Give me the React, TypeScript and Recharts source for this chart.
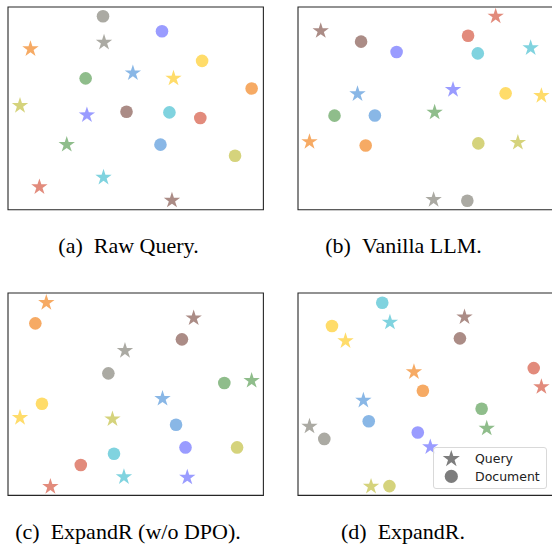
import React from "react";
import { ScatterChart, Scatter, XAxis, YAxis, ReferenceArea } from "recharts";

// one colour per query/document pair
const COLORS = [
  "#abaaa3", // gray
  "#9a9cff", // purple
  "#ffdc6a", // yellow
  "#f6aa64", // orange
  "#8fbd8b", // green
  "#ab8c86", // brown
  "#80d3df", // cyan
  "#e28b7c", // red
  "#89b7e6", // blue
  "#d5d37c", // olive
];

// (a) Raw Query
const rawQueries = [
  { x: 37.6, y: 82.5 }, { x: 30.9, y: 46.7 }, { x: 64.8, y: 64.8 }, { x: 8.8, y: 79.3 }, { x: 23.0, y: 32.1 },
  { x: 64.2, y: 4.6 }, { x: 37.4, y: 15.9 }, { x: 12.3, y: 11.2 }, { x: 48.9, y: 67.4 }, { x: 4.7, y: 51.3 },
];
const rawDocs = [
  { x: 37.2, y: 95.4 }, { x: 60.3, y: 88.0 }, { x: 76.0, y: 73.4 }, { x: 95.4, y: 59.8 }, { x: 30.4, y: 64.8 },
  { x: 46.4, y: 48.3 }, { x: 63.2, y: 48.0 }, { x: 75.3, y: 45.2 }, { x: 59.7, y: 32.1 }, { x: 88.9, y: 26.6 },
];

// (b) Vanilla LLM
const vanillaQueries = [
  { x: 53.1, y: 4.9 }, { x: 60.7, y: 59.2 }, { x: 95.3, y: 56.2 }, { x: 4.5, y: 33.5 }, { x: 53.5, y: 48.0 },
  { x: 8.9, y: 88.2 }, { x: 91.1, y: 79.8 }, { x: 77.4, y: 95.4 }, { x: 23.3, y: 57.1 }, { x: 86.1, y: 33.1 },
];
const vanillaDocs = [
  { x: 66.3, y: 4.4 }, { x: 38.6, y: 77.8 }, { x: 81.3, y: 57.4 }, { x: 26.5, y: 31.7 }, { x: 14.3, y: 46.4 },
  { x: 24.7, y: 82.9 }, { x: 70.4, y: 77.1 }, { x: 66.6, y: 85.8 }, { x: 30.1, y: 46.5 }, { x: 70.6, y: 32.7 },
];

// (c) ExpandR (w/o DPO)
const noDpoQueries = [
  { x: 45.8, y: 71.5 }, { x: 70.2, y: 8.9 }, { x: 4.7, y: 38.4 }, { x: 15.0, y: 95.2 }, { x: 95.4, y: 56.7 },
  { x: 72.7, y: 87.6 }, { x: 45.4, y: 9.1 }, { x: 16.6, y: 4.3 }, { x: 60.5, y: 47.8 }, { x: 40.9, y: 37.7 },
];
const noDpoDocs = [
  { x: 39.3, y: 60.3 }, { x: 69.5, y: 23.7 }, { x: 13.3, y: 45.3 }, { x: 10.7, y: 85.0 }, { x: 84.7, y: 55.5 },
  { x: 68.1, y: 77.1 }, { x: 41.5, y: 20.6 }, { x: 28.5, y: 15.0 }, { x: 65.8, y: 34.9 }, { x: 89.7, y: 23.7 },
];

// (d) ExpandR
const expandrQueries = [
  { x: 4.5, y: 34.1 }, { x: 51.8, y: 23.9 }, { x: 18.6, y: 76.3 }, { x: 45.4, y: 61.0 }, { x: 73.9, y: 33.1 },
  { x: 65.2, y: 88.1 }, { x: 36.0, y: 85.5 }, { x: 95.3, y: 53.6 }, { x: 25.6, y: 46.9 }, { x: 28.6, y: 4.4 },
];
const expandrDocs = [
  { x: 10.3, y: 27.9 }, { x: 46.9, y: 31.1 }, { x: 13.3, y: 83.7 }, { x: 48.9, y: 51.7 }, { x: 71.9, y: 42.8 },
  { x: 63.4, y: 77.6 }, { x: 33.0, y: 95.2 }, { x: 92.3, y: 62.9 }, { x: 27.7, y: 36.6 }, { x: 35.8, y: 4.6 },
];

const captions = ["(a)\u00a0\u00a0Raw Query.", "(b)\u00a0\u00a0Vanilla LLM.", "(c)\u00a0\u00a0ExpandR (w/o DPO).", "(d)\u00a0\u00a0ExpandR."];

function starPoints(cx: number, cy: number, R: number) {
  const r = R * 0.382;
  const pts: string[] = [];
  for (let i = 0; i < 10; i++) {
    const a = ((-90 + i * 36) * Math.PI) / 180;
    const rad = i % 2 === 0 ? R : r;
    pts.push(`${cx + rad * Math.cos(a)},${cy + rad * Math.sin(a)}`);
  }
  return pts.join(" ");
}

const Star = (props: any) => (
  <polygon points={starPoints(props.cx, props.cy, 8.6)} fill={props.payload.color} />
);
const Dot = (props: any) => <circle cx={props.cx} cy={props.cy} r={6.3} fill={props.payload.color} />;

const withColor = (pts: { x: number; y: number }[]) => pts.map((p, i) => ({ ...p, color: COLORS[i] }));

const PAD = 12;

function Panel({ left, top, width, height, queries, docs }: any) {
  return (
    <div style={{ position: "absolute", left: left - PAD, top: top - PAD }}>
      <ScatterChart
        width={width + PAD * 2}
        height={height + PAD * 2}
        margin={{ top: PAD, right: PAD, bottom: PAD, left: PAD }}
      >
        <XAxis type="number" dataKey="x" domain={[0, 100]} hide />
        <YAxis type="number" dataKey="y" domain={[0, 100]} hide />
        <Scatter data={withColor(docs)} shape={Dot} isAnimationActive={false} />
        <Scatter data={withColor(queries)} shape={Star} isAnimationActive={false} />
        <ReferenceArea x1={0} x2={100} y1={0} y2={100} fill="none" fillOpacity={0} stroke="#262626" strokeWidth={1.1} />
      </ScatterChart>
    </div>
  );
}

export default function App() {
  return (
    <div style={{ position: "absolute", left: 0, top: 0, width: 552, height: 544, overflow: "hidden", background: "#fff" }}>
      <Panel left={8.3} top={7.3} width={255.4} height={202.7} queries={rawQueries} docs={rawDocs} />
      <Panel left={298.3} top={7.3} width={255.4} height={202.7} queries={vanillaQueries} docs={vanillaDocs} />
      <Panel left={8.3} top={293.3} width={255.4} height={202.4} queries={noDpoQueries} docs={noDpoDocs} />
      <Panel left={298.3} top={293.3} width={255.4} height={202.4} queries={expandrQueries} docs={expandrDocs} />

      <div
        style={{
          position: "absolute",
          left: 432.7,
          top: 447.3,
          width: 114,
          height: 41.7,
          boxSizing: "border-box",
          border: "1px solid #d9d9d9",
          borderRadius: 3,
          background: "rgba(255,255,255,0.8)",
        }}
      >
        <svg width={114} height={42} style={{ position: "absolute", left: -1, top: -1 }}>
          <polygon points={starPoints(18.3, 11.9, 9)} fill="#7d7d7d" />
          <circle cx={18.3} cy={29.4} r={6.6} fill="#7d7d7d" />
          <text x={42} y={16.3} fontFamily="DejaVu Sans" fontSize={12.5} fill="#222">Query</text>
          <text x={42} y={33.8} fontFamily="DejaVu Sans" fontSize={12.5} fill="#222">Document</text>
        </svg>
      </div>

      <svg width={552} height={544} style={{ position: "absolute", left: 0, top: 0, pointerEvents: "none" }}>
        <g fontFamily="Liberation Serif, Times New Roman, serif" fontSize={22} fill="#000" textAnchor="middle">
          <text x={128.5} y={253.3}>{captions[0]}</text>
          <text x={403.5} y={253.3}>{captions[1]}</text>
          <text x={128} y={539}>{captions[2]}</text>
          <text x={403} y={539}>{captions[3]}</text>
        </g>
      </svg>
    </div>
  );
}
